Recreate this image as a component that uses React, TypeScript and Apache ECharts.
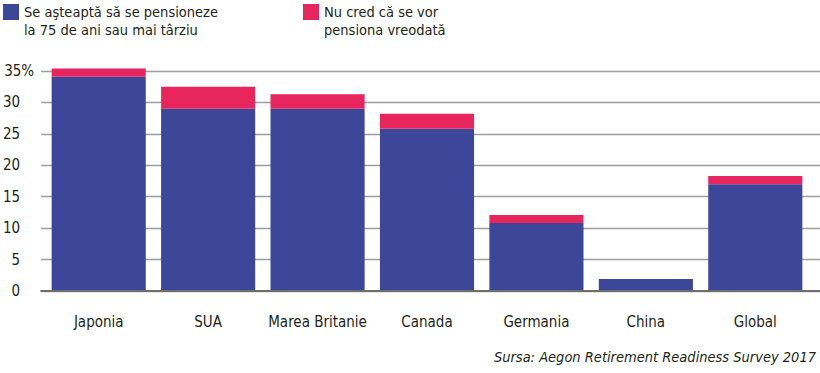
import React, { useEffect, useRef } from "react";
import * as echarts from "echarts";

const categories = ["Japonia", "SUA", "Marea Britanie", "Canada", "Germania", "China", "Global"];
const seriesNames = [
  "Se aşteaptă să se pensioneze\nla 75 de ani sau mai târziu",
  "Nu cred că se vor\npensiona vreodată",
];
const expectLate = [34.1, 29.0, 29.0, 25.8, 10.8, 1.9, 17.0];
const neverRetire = [1.3, 3.5, 2.3, 2.4, 1.3, 0, 1.3];
const yTicks = [0, 5, 10, 15, 20, 25, 30, 35];
const sourceText = "Sursa: Aegon Retirement Readiness Survey 2017";

const FONT = "'Liberation Sans Narrow', 'DejaVu Sans Condensed', 'Roboto Condensed', sans-serif";
const TEXT = "#231f20";
const BLUE = "#3d4799";
const PINK = "#e8265e";
const LEGEND_ICON = "path://M0,0 L16,0 L16,16 L0,16 Z M0,34 L0.01,34 L0.01,34.01 Z";

export default function App() {
  const ref = useRef<HTMLDivElement>(null);
  useEffect(() => {
    if (!ref.current) return;
    const chart = echarts.init(ref.current, undefined, { renderer: "svg" });
    const yMax = yTicks[yTicks.length - 1];
    const legendBase = {
      top: 3,
      padding: 0,
      itemWidth: 16,
      itemHeight: 34,
      icon: LEGEND_ICON,
      selectedMode: false,
      textStyle: { fontFamily: FONT, fontSize: 14.5, color: TEXT, lineHeight: 18 },
    };
    chart.setOption({
      animation: false,
      textStyle: { fontFamily: FONT, color: TEXT },
      legend: [
        { ...legendBase, data: [seriesNames[0]], left: 3 },
        { ...legendBase, data: [seriesNames[1]], left: 303 },
      ],
      grid: [
        { left: 38, right: 0, top: 71, bottom: 82 },
        { left: 44, right: 10, top: 71, bottom: 82 },
      ],
      xAxis: [
        {
          gridIndex: 0,
          type: "value",
          min: 0,
          max: 1,
          axisLine: { show: true, lineStyle: { color: "#6d6d6d", width: 2 } },
          axisTick: { show: false },
          axisLabel: { show: false },
          splitLine: { show: false },
          z: 10,
        },
        {
          gridIndex: 1,
          type: "category",
          data: categories,
          axisLine: { show: false },
          axisTick: { show: false },
          axisLabel: { fontFamily: FONT, fontSize: 15, color: TEXT, margin: 23, interval: 0 },
        },
      ],
      yAxis: [
        {
          gridIndex: 0,
          type: "value",
          min: 0,
          max: yMax,
          interval: 5,
          axisLine: { show: false },
          axisTick: { show: false },
          splitLine: { show: true, lineStyle: { color: "#9d9d9d", width: 1.3 } },
          axisLabel: {
            fontFamily: FONT,
            fontSize: 15,
            color: TEXT,
            margin: 7,
            formatter: (v: number) => (v === yMax ? v + "%" : "{n|" + v + "}"),
            rich: { n: { fontFamily: FONT, fontSize: 15, color: TEXT, padding: [0, 14, 0, 0] } },
          },
        },
        {
          gridIndex: 1,
          type: "value",
          min: 0,
          max: yMax,
          show: false,
          splitLine: { show: false },
        },
      ],
      series: [
        {
          name: seriesNames[0],
          type: "bar",
          stack: "total",
          xAxisIndex: 1,
          yAxisIndex: 1,
          data: expectLate,
          itemStyle: { color: BLUE },
          barCategoryGap: "14%",
          clip: false,
          z: 5,
        },
        {
          name: seriesNames[1],
          type: "bar",
          stack: "total",
          xAxisIndex: 1,
          yAxisIndex: 1,
          data: neverRetire,
          itemStyle: { color: PINK },
          barCategoryGap: "14%",
          clip: false,
          z: 5,
        },
      ],
      graphic: [
        {
          type: "text",
          right: 4,
          top: 349,
          style: { text: sourceText, fontFamily: FONT, fontSize: 14.5, fontStyle: "italic", fill: TEXT },
        },
      ],
    });
    return () => chart.dispose();
  }, []);
  return <div ref={ref} style={{ position: "absolute", left: 0, top: 0, width: 820, height: 373 }} />;
}
